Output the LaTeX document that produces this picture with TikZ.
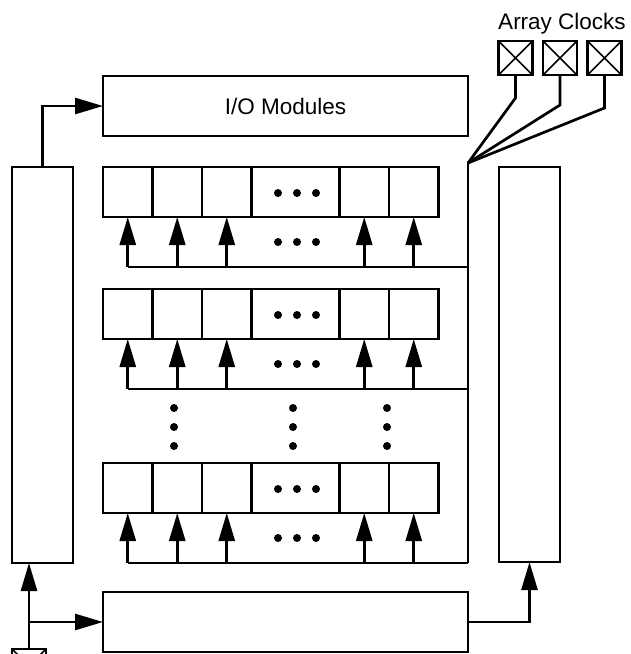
\documentclass[tikz,border=0pt]{standalone}
\usepackage{fontspec}
\setmainfont{Liberation Sans}
\usetikzlibrary{arrows.meta}
\begin{document}
\begin{tikzpicture}[x=1pt,y=-1pt,line width=2.7pt,
  box/.style={draw,line width=2.7pt,inner sep=0pt,outer sep=0pt},
  cellbox/.style={box,minimum height=50pt},
  tip/.style={-{Triangle[length=28pt,width=16pt]}},
  dotmark/.style={circle,fill,inner sep=0pt,minimum size=8pt},
  clockbox/.style={box,minimum size=34pt},
  lbl/.style={font=\fontsize{22.5}{27}\selectfont}]
\useasboundingbox (0,0) rectangle (631,654);
\clip (0,0) rectangle (631,654);

% main blocks
\node[box,minimum width=365pt,minimum height=60pt,lbl] (io) at (285.5,106) {I/O Modules};
\node[box,minimum width=61pt,minimum height=396pt] (left) at (42.5,365) {};
\node[box,minimum width=61pt,minimum height=395pt] (right) at (529.5,364.5) {};
\node[box,minimum width=365pt,minimum height=60pt] (bot) at (285.5,622) {};

% clock pads
\node[lbl,anchor=base] (clklbl) at (562,29) {Array Clocks};
\foreach \n/\x in {c1/515.5,c2/560,c3/604.5}{
  \node[clockbox] (\n) at (\x,58) {};
  \draw[line width=1.6pt] (\n.north west) -- (\n.south east) (\n.north east) -- (\n.south west);
}
\node[clockbox] (pad) at (29,666) {};
\draw[line width=1.6pt] (pad.north west) -- (pad.south east) (pad.north east) -- (pad.south west);

\coordinate (clk) at (468,163);
\draw (c1.south) -- ++(0,23) -- (clk);
\draw (c2.south) -- ++(0,30) -- (clk);
\draw (c3.south) -- ++(0,33) -- (clk);

% array rows
\foreach \r/\T in {1/167,2/289,3/463}{
  \node[cellbox,minimum width=49.5pt] (r\r a) at (127.75,\T+25) {};
  \node[cellbox,minimum width=49.5pt] (r\r b) at (177.25,\T+25) {};
  \node[cellbox,minimum width=49.5pt] (r\r c) at (226.75,\T+25) {};
  \node[cellbox,minimum width=88pt] (r\r d) at (295.5,\T+25) {};
  \node[cellbox,minimum width=49.5pt] (r\r e) at (364.25,\T+25) {};
  \node[cellbox,minimum width=49.5pt] (r\r f) at (413.75,\T+25) {};
  \coordinate (bus\r) at (468,\T+100);
  \draw (r\r a.south |- bus\r) -- (bus\r);
  \foreach \c in {a,b,c,e,f}{
    \draw[tip] (r\r\c.south |- bus\r) -- (r\r\c.south);
  }
  \foreach \x in {278,297,316}{
    \node[dotmark] at (\x,\T+26) {};
    \node[dotmark] at (\x,\T+75) {};
  }
}
\draw (clk) -- (bus3);

% vertical ellipsis
\foreach \x in {174,293,387}{
  \foreach \y in {408,427,446}{
    \node[dotmark] at (\x,\y) {};
  }
}

% connectors
\draw[tip] (left.north) |- (io.west);
\draw[tip] (pad.north) -- (pad.north |- left.south);
\draw[tip] (pad.north |- bot.west) -- (bot.west);
\draw[tip] (bot.east) -| (right.south);
\end{tikzpicture}
\end{document}
